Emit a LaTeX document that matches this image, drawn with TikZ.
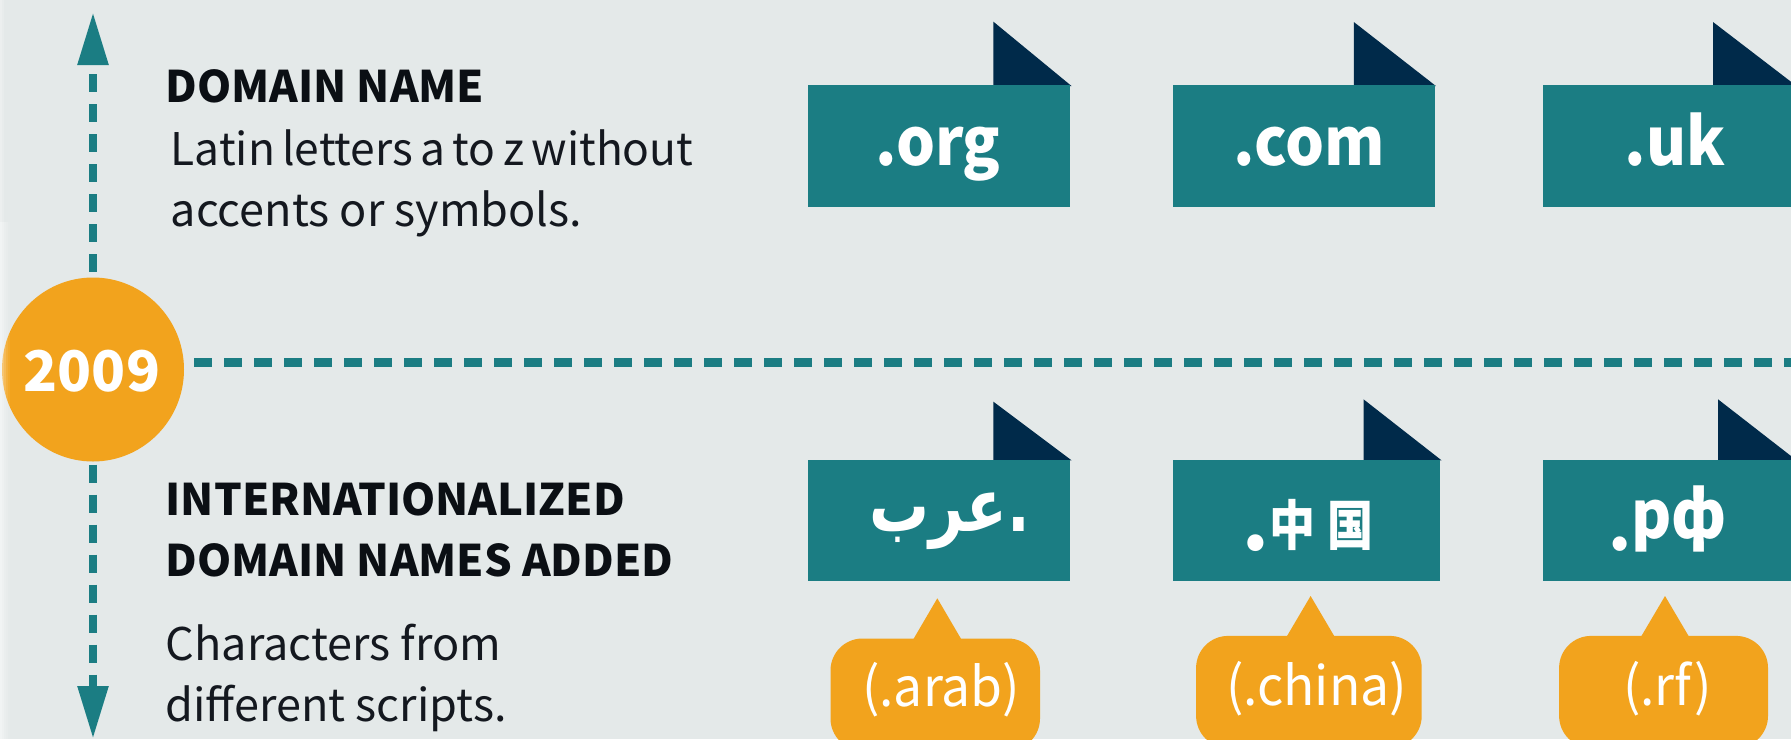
\documentclass[tikz,border=0pt]{standalone}
\usepackage{fontspec}
\usepackage{graphicx}
\usetikzlibrary{arrows.meta,shapes.geometric}
\setmainfont{Noto Sans CJK SC}
\newfontfamily\arabicfont[Script=Arabic]{DejaVu Sans}
\TeXXeTstate=1
\definecolor{bgc}{HTML}{E4E9E9}
\definecolor{tealc}{HTML}{1B7D83}
\definecolor{navyc}{HTML}{002A4A}
\definecolor{orangec}{HTML}{F2A31D}
\definecolor{inkc}{HTML}{0B0F14}
\definecolor{bodyc}{HTML}{14181F}
\tikzset{
  txt/.style={anchor=base west,inner sep=0pt,text=inkc},
  head/.style={txt,font=\bfseries\fontsize{43.5}{43.5}\selectfont},
  body/.style={txt,text=bodyc,font=\fontsize{45}{45}\selectfont},
  flagtxt/.style={anchor=base west,inner sep=0pt,text=white,font=\bfseries\fontsize{66}{66}\selectfont},
  bubtxt/.style={anchor=base west,inner sep=0pt,text=white,font=\fontsize{54}{54}\selectfont},
  conn/.style={draw=tealc,dash pattern=on 18pt off 12pt},
}
\newcommand{\narrow}[1]{\scalebox{.93}[1]{#1}}
\newcommand{\bubnarrow}[1]{\scalebox{.955}[1]{#1}}
\newcommand{\hanzi}[1]{\raisebox{5pt}{\scalebox{.92}[1.08]{\fontsize{50}{50}\selectfont #1}}}
% name, x1, x2, top, bottom, fold x, fold top
\newcommand{\flagbox}[7]{%
  \fill[navyc] (#6,#4+1) -- (#6,#7) -- (#3+1.5,#4+1) -- cycle;
  \node[fill=tealc,inner sep=0pt,minimum width=#3pt-#2pt,minimum height=#5pt-#4pt,anchor=north west] (#1) at (#2,#4) {};
}
% name, x1, x2, top, tip x, tip y
\newcommand{\bubble}[6]{%
  \node[inner sep=0pt,minimum width=#3pt-#2pt,minimum height=112pt,anchor=north west,fill=orangec,rounded corners=32pt] (#1) at (#2,#4) {};
  \fill[orangec] (#5-24,#4+1) -- (#5,#6) -- (#5+24,#4+1) -- cycle;
}
\begin{document}
\begin{tikzpicture}[x=1pt,y=-1pt]
\useasboundingbox (0,0) rectangle (1791,739);
\clip (0,0) rectangle (1791,739);
\fill[bgc] (0,0) rectangle (1791,739);

\coordinate (topTip) at (93,7);
\coordinate (botTip) at (93,744);
\coordinate (lineEnd) at (1795,362.5);
\node[ellipse,fill=orangec,inner sep=0pt,minimum width=182pt,minimum height=184pt] (year) at (93,369.5) {};
\node[anchor=base,inner sep=0pt,text=white,font=\bfseries\fontsize{56}{56}\selectfont] (yeartxt) at (92,391.5) {2009};

\draw[conn,line width=8.5pt,shorten <=5.5pt,-{Triangle[width=29pt,length=53pt,sep=5pt]},tealc] (year.north) -- (topTip);
\draw[conn,line width=8.5pt,shorten <=3pt,-{Triangle[width=29pt,length=53pt,sep=5pt]},tealc] (year.south) -- (botTip);
\draw[conn,line width=8.3pt,shorten <=10pt] (year.east |- lineEnd) -- (lineEnd);

\foreach \xa/\op in {0/.5,2/.38,4/.26,6/.15,8/.07}
  \fill[white,opacity=\op] (\xa,222) rectangle (\xa+2,739);
\foreach \xa/\op in {0/.3,2/.15}
  \fill[white,opacity=\op] (\xa,0) rectangle (\xa+2,222);

\node[head] (h1) at (165.5,102) {DOMAIN NAME};
\node[body] (b1) at (170.5,165) {\scalebox{.985}[1]{\spaceskip=7.5pt Latin letters a to z without}};
\node[body] (b2) at (170.5,226.5) {accents or symbols.};
\node[head] (h2) at (165.5,515) {INTERNATIONALIZED};
\node[head] (h3) at (165.5,576) {DOMAIN NAMES ADDED};
\node[body] (b3) at (165.5,660) {Characters from};
\node[body] (b4) at (165.5,721.5) {different scripts.};

\flagbox{f1}{807.7}{1070}{85}{206.7}{993.4}{21.7}
\flagbox{f2}{1172.7}{1434.4}{85}{206.7}{1353.8}{22}
\flagbox{f3}{1542.7}{1795}{85}{206.7}{1713}{22}
\flagbox{g1}{807.7}{1070}{459.3}{581}{993.4}{401.7}
\flagbox{g2}{1172.7}{1440}{459.3}{581}{1363.5}{399.3}
\flagbox{g3}{1542.7}{1795}{459.3}{581}{1718}{399.3}

\node[flagtxt] (t1) at (875,165) {\narrow{.org}};
\node[flagtxt] (t2) at (1233,165) {\narrow{.com}};
\node[flagtxt] (t3) at (1624.5,165) {\narrow{.uk}};
\node[flagtxt,font=\bfseries\arabicfont\fontsize{58}{58}\selectfont] (t4) at (869,531) {\scalebox{1.03}[1.28]{\beginR .عرب\endR}};
\node[flagtxt] (t5) at (1242,550) {\scalebox{1.15}{.}\hspace{1pt}\hanzi{中}\hspace{12pt}\hanzi{国}};
\node[flagtxt] (t6) at (1608,550) {.\raisebox{12pt}{\narrow{рф}}};

\bubble{p1}{830.3}{1039.8}{638.3}{937.3}{598.3}
\bubble{p2}{1195.9}{1421.5}{635.7}{1310.6}{596}
\bubble{p3}{1558.9}{1767.8}{635.7}{1665}{596}
\node[bubtxt] (q1) at (862,706.5) {\bubnarrow{(.arab)}};
\node[bubtxt] (q2) at (1226,705) {\bubnarrow{(.china)}};
\node[bubtxt] (q3) at (1623,705) {\bubnarrow{(.rf)}};
\end{tikzpicture}
\end{document}
